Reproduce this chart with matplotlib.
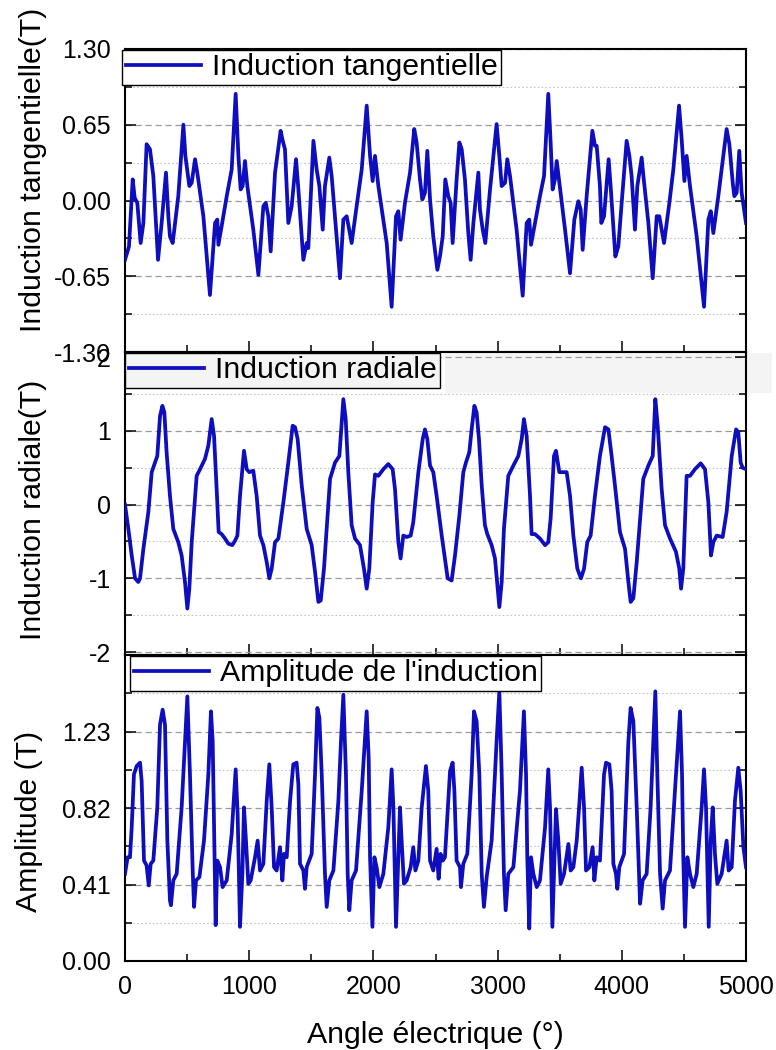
import matplotlib
matplotlib.use("Agg")
import matplotlib.pyplot as plt
from matplotlib.ticker import MultipleLocator, FixedLocator, FormatStrFormatter
from matplotlib.patches import Rectangle

plt.rcParams['font.family'] = ['Liberation Sans', 'DejaVu Sans']

# ---------------- data ----------------
tan_x = [0, 32, 62, 78, 99, 126, 148, 174, 201, 228, 266, 295, 330, 349, 362, 384, 429, 470, 486, 518,
         537, 564, 582, 631, 684, 725, 743, 752, 778, 819, 859, 891, 913, 931, 947, 966, 985, 1033, 1074,
         1114, 1133, 1154, 1173, 1208, 1253, 1270, 1288, 1315, 1342, 1377, 1396, 1436, 1463, 1476, 1517,
         1543, 1565, 1592, 1610, 1645, 1664, 1731, 1758, 1785, 1825, 1865, 1906, 1946, 1973, 1994, 2013,
         2040, 2107, 2147, 2182, 2201, 2219, 2254, 2295, 2329, 2348, 2375, 2394, 2415, 2434, 2456, 2482,
         2515, 2536, 2558, 2579, 2603, 2622, 2638, 2670, 2692, 2711, 2737, 2764, 2783, 2805, 2845, 2858,
         2880, 2901, 2939, 2992, 3014, 3033, 3060, 3078, 3100, 3153, 3202, 3234, 3255, 3269, 3301, 3341,
         3374, 3408, 3427, 3443, 3462, 3476, 3497, 3543, 3583, 3618, 3650, 3669, 3685, 3717, 3763, 3784,
         3798, 3824, 3835, 3857, 3894, 3910, 3948, 3972, 3999, 4039, 4061, 4079, 4106, 4125, 4160, 4174,
         4214, 4249, 4281, 4302, 4340, 4383, 4415, 4461, 4482, 4504, 4522, 4549, 4603, 4662, 4697, 4716,
         4737, 4777, 4844, 4866, 4893, 4906, 4925, 4946, 4965, 5000]
tan_y = [-0.509, -0.394, 0.181, 0.023, -0.020, -0.365, -0.193, 0.483, 0.44, 0.21, -0.509, -0.193, 0.239,
         -0.135, -0.308, -0.365, 0.037, 0.65, 0.383, 0.124, 0.152, 0.354, 0.239, -0.135, -0.811, -0.193,
         -0.164, -0.380, -0.221, 0.037, 0.267, 0.915, 0.383, 0.095, 0.124, 0.339, 0.124, -0.25, -0.638,
         -0.049, -0.020, -0.135, -0.437, 0.239, 0.598, 0.512, 0.44, -0.193, -0.049, 0.354, 0.095, -0.509,
         -0.365, -0.408, 0.512, 0.267, 0.124, -0.25, 0.124, 0.368, 0.21, -0.667, -0.164, -0.135, -0.365,
         -0.049, 0.267, 0.814, 0.383, 0.167, 0.383, 0.124, -0.365, -0.912, -0.135, -0.092, -0.336, -0.020,
         0.239, 0.613, 0.498, 0.181, 0.009, 0.066, 0.426, 0.009, -0.308, -0.595, -0.48, -0.308, 0.181,
         0.037, -0.020, -0.365, 0.181, 0.498, 0.44, 0.181, -0.279, -0.509, -0.193, 0.239, -0.078, -0.25,
         -0.365, 0.095, 0.656, 0.383, 0.124, 0.152, 0.354, 0.21, -0.25, -0.817, -0.193, -0.164, -0.380,
         -0.193, 0.037, 0.21, 0.915, 0.498, 0.095, 0.181, 0.339, 0.152, -0.25, -0.624, -0.164, -0.006,
         -0.078, -0.423, 0.037, 0.598, 0.469, 0.469, 0.124, -0.193, -0.135, 0.354, 0.124, -0.48, -0.394,
         -0.020, 0.512, 0.383, 0.21, -0.25, 0.124, 0.368, 0.21, -0.193, -0.667, -0.135, -0.135, -0.365,
         -0.020, 0.267, 0.814, 0.526, 0.167, 0.383, 0.124, -0.308, -0.912, -0.164, -0.092, -0.279, 0.037,
         0.613, 0.483, 0.152, 0.037, 0.066, 0.426, 0.066, -0.193]

rad_x = [0, 27, 54, 81, 107, 121, 148, 188, 215, 242, 260, 282, 301, 317, 335, 362, 389, 429, 456, 483,
         502, 518, 537, 577, 604, 644, 671, 698, 717, 738, 754, 778, 805, 832, 864, 886, 905, 926, 958,
         980, 1001, 1033, 1060, 1087, 1114, 1141, 1162, 1181, 1208, 1235, 1275, 1315, 1350, 1369, 1390,
         1423, 1463, 1503, 1530, 1557, 1576, 1602, 1651, 1691, 1726, 1758, 1777, 1798, 1825, 1852, 1892,
         1924, 1946, 1967, 1994, 2013, 2040, 2080, 2120, 2155, 2174, 2201, 2219, 2241, 2268, 2300, 2321,
         2362, 2397, 2415, 2434, 2456, 2482, 2509, 2550, 2576, 2598, 2630, 2657, 2692, 2724, 2745, 2772,
         2791, 2813, 2831, 2850, 2872, 2898, 2917, 2952, 2979, 2998, 3014, 3033, 3051, 3086, 3127, 3167,
         3194, 3212, 3234, 3261, 3274, 3301, 3341, 3382, 3408, 3427, 3454, 3470, 3497, 3524, 3556, 3583,
         3610, 3642, 3671, 3696, 3722, 3749, 3784, 3824, 3865, 3892, 3918, 3945, 3985, 4026, 4053, 4071,
         4093, 4120, 4173, 4214, 4249, 4270, 4289, 4321, 4348, 4388, 4436, 4463, 4477, 4495, 4522, 4549,
         4589, 4635, 4670, 4697, 4718, 4737, 4764, 4812, 4844, 4885, 4920, 4938, 4957, 4973, 5000]
rad_y = [0.0, -0.33, -0.69, -1.0, -1.05, -1.0, -0.6, -0.10, 0.44, 0.57, 0.66, 1.20, 1.34, 1.25, 0.71,
         0.12, -0.33, -0.51, -0.69, -1.05, -1.41, -1.14, -0.51, 0.39, 0.48, 0.62, 0.80, 1.16, 0.93, 0.21,
         -0.37, -0.40, -0.46, -0.53, -0.55, -0.49, -0.42, 0.12, 0.73, 0.48, 0.44, 0.46, 0.12, -0.42, -0.55,
         -0.78, -1.0, -0.87, -0.51, -0.46, 0.03, 0.57, 1.07, 1.05, 0.89, 0.26, -0.33, -0.55, -0.91, -1.32,
         -1.30, -0.87, 0.35, 0.57, 0.66, 1.43, 1.16, 0.44, -0.28, -0.46, -0.55, -0.87, -1.14, -0.87, 0.03,
         0.41, 0.39, 0.48, 0.55, 0.48, 0.21, -0.51, -0.73, -0.42, -0.44, -0.42, -0.24, 0.44, 0.89, 1.02,
         0.89, 0.53, 0.44, 0.12, -0.42, -0.73, -1.0, -1.03, -0.69, -0.15, 0.44, 0.57, 0.71, 1.02, 1.34,
         1.25, 0.89, 0.26, -0.28, -0.40, -0.55, -0.73, -1.09, -1.39, -1.05, -0.33, 0.39, 0.53, 0.66, 0.89,
         1.16, 0.93, 0.12, -0.40, -0.40, -0.46, -0.55, -0.51, -0.19, 0.66, 0.73, 0.44, 0.44, 0.44, 0.12,
         -0.42, -0.87, -1.0, -0.87, -0.51, -0.42, 0.12, 0.66, 1.05, 1.02, 0.66, 0.26, -0.37, -0.60, -1.05,
         -1.32, -1.27, -0.78, 0.35, 0.53, 0.66, 1.43, 1.07, 0.21, -0.28, -0.46, -0.64, -0.87, -1.14, -0.87,
         0.39, 0.39, 0.48, 0.56, 0.48, 0.03, -0.69, -0.51, -0.42, -0.44, -0.10, 0.66, 1.02, 0.98, 0.57,
         0.50, 0.48]

amp_x = [0, 21, 40, 54, 72, 94, 121, 134, 153, 174, 191, 207, 228, 260, 282, 303, 322, 341, 362, 370,
         389, 416, 456, 483, 502, 523, 545, 556, 572, 599, 636, 671, 692, 706, 719, 730, 743, 765, 786,
         819, 859, 891, 907, 926, 945, 958, 974, 993, 1012, 1047, 1068, 1087, 1114, 1141, 1162, 1181,
         1200, 1221, 1248, 1267, 1280, 1302, 1329, 1355, 1382, 1396, 1409, 1436, 1449, 1463, 1503, 1530,
         1549, 1565, 1584, 1610, 1624, 1645, 1678, 1718, 1739, 1758, 1779, 1793, 1806, 1825, 1860, 1906,
         1946, 1962, 1973, 1992, 2008, 2026, 2048, 2080, 2120, 2147, 2161, 2182, 2201, 2214, 2230, 2246,
         2268, 2300, 2321, 2338, 2362, 2389, 2423, 2442, 2456, 2482, 2509, 2525, 2541, 2558, 2576, 2617,
         2638, 2652, 2670, 2697, 2705, 2724, 2756, 2791, 2810, 2831, 2853, 2872, 2890, 2912, 2952, 2992,
         3014, 3033, 3051, 3065, 3086, 3127, 3180, 3212, 3229, 3239, 3255, 3269, 3288, 3315, 3341, 3382,
         3408, 3422, 3441, 3454, 3470, 3489, 3508, 3535, 3570, 3588, 3610, 3637, 3658, 3677, 3696, 3712,
         3739, 3765, 3779, 3798, 3824, 3857, 3873, 3900, 3918, 3932, 3953, 3964, 3980, 4018, 4053, 4071,
         4093, 4120, 4147, 4168, 4200, 4232, 4270, 4286, 4308, 4329, 4348, 4388, 4428, 4469, 4485, 4495,
         4509, 4528, 4549, 4576, 4603, 4643, 4662, 4678, 4700, 4716, 4732, 4750, 4769, 4804, 4844, 4860,
         4885, 4911, 4938, 4957, 4979, 5000]
amp_y = [0.467, 0.556, 0.556, 0.716, 1.0, 1.045, 1.063, 0.965, 0.538, 0.512, 0.405, 0.521, 0.538, 0.823,
         1.267, 1.347, 1.267, 0.645, 0.325, 0.299, 0.432, 0.467, 0.823, 1.178, 1.418, 1.0, 0.485, 0.290,
         0.432, 0.450, 0.645, 1.0, 1.338, 1.178, 0.645, 0.192, 0.538, 0.503, 0.396, 0.432, 0.681, 1.027,
         0.787, 0.183, 0.467, 0.823, 0.645, 0.414, 0.432, 0.556, 0.645, 0.485, 0.521, 0.858, 1.054, 0.823,
         0.503, 0.485, 0.610, 0.432, 0.574, 0.556, 0.858, 1.054, 1.063, 0.947, 0.521, 0.485, 0.387, 0.503,
         0.574, 1.0, 1.356, 1.303, 1.0, 0.467, 0.290, 0.432, 0.485, 0.858, 1.178, 1.427, 1.0, 0.467, 0.272,
         0.432, 0.485, 0.912, 1.338, 1.089, 0.556, 0.183, 0.556, 0.503, 0.396, 0.467, 0.716, 1.027, 0.823,
         0.183, 0.556, 0.823, 0.610, 0.414, 0.432, 0.503, 0.610, 0.485, 0.538, 0.823, 1.045, 0.912, 0.538,
         0.485, 0.601, 0.441, 0.574, 0.538, 0.556, 1.018, 1.063, 0.912, 0.538, 0.503, 0.396, 0.521, 0.574,
         1.0, 1.338, 1.285, 1.0, 0.467, 0.290, 0.450, 0.645, 1.178, 1.445, 1.0, 0.467, 0.272, 0.467, 0.503,
         0.912, 1.338, 1.0, 0.556, 0.174, 0.556, 0.467, 0.396, 0.432, 0.716, 1.027, 0.823, 0.183, 0.467,
         0.814, 0.645, 0.414, 0.467, 0.627, 0.485, 0.503, 0.645, 0.841, 1.036, 0.823, 0.485, 0.503, 0.610,
         0.432, 0.556, 0.538, 1.0, 1.063, 1.054, 0.912, 0.521, 0.467, 0.387, 0.503, 0.574, 1.178, 1.356,
         1.285, 0.823, 0.307, 0.432, 0.467, 0.823, 1.445, 1.0, 0.467, 0.281, 0.432, 0.485, 0.912, 1.338,
         1.0, 0.556, 0.183, 0.556, 0.467, 0.396, 0.467, 0.823, 1.027, 0.823, 0.183, 0.645, 0.823, 0.574,
         0.414, 0.467, 0.645, 0.485, 0.503, 0.858, 1.036, 0.912, 0.610, 0.503]

labels = ["Induction tangentielle", "Induction radiale", "Amplitude de l'induction"]
ylabels = ["Induction tangentielle(T)", "Induction radiale(T)", "Amplitude (T)"]
tan_ticks = [-1.30, -0.65, 0.00, 0.65, 1.30]
rad_ticks = [-2, -1, 0, 1, 2]
amp_ticks = [0.00, 0.41, 0.82, 1.23]
x_ticks = [0, 1000, 2000, 3000, 4000, 5000]

# ---------------- layout ----------------
W, H = 776, 1050
fig = plt.figure(figsize=(W / 100, H / 100), dpi=100)
L, R = 125, 746
panels_px = [(49, 352), (352, 655), (655, 961)]
line_color = '#0e0ebe'
FS_LAB = 21.8
FS_TICK = 18

axes = []
for top, bot in panels_px:
    ax = fig.add_axes([L / W, 1 - bot / H, (R - L) / W, (bot - top) / H])
    axes.append(ax)

ax1, ax2, ax3 = axes
ax1.plot(tan_x, tan_y, color=line_color, lw=2.7, label=labels[0], zorder=3,
         solid_joinstyle='round')
ax2.plot(rad_x, rad_y, color=line_color, lw=2.7, label=labels[1], zorder=3,
         solid_joinstyle='round')
ax3.plot(amp_x, amp_y, color=line_color, lw=2.7, label=labels[2], zorder=3,
         solid_joinstyle='round')

ax1.set_ylim(-1.30, 1.30)
ax1.yaxis.set_major_locator(FixedLocator(tan_ticks))
ax1.yaxis.set_minor_locator(MultipleLocator(0.325))
ax1.yaxis.set_major_formatter(FormatStrFormatter('%.2f'))

ax2.set_ylim(-2.04, 2.07)
ax2.yaxis.set_major_locator(FixedLocator(rad_ticks))
ax2.yaxis.set_minor_locator(MultipleLocator(0.5))
ax2.yaxis.set_major_formatter(FormatStrFormatter('%d'))

ax3.set_ylim(0, 1.64)
ax3.yaxis.set_major_locator(FixedLocator(amp_ticks))
ax3.yaxis.set_minor_locator(MultipleLocator(0.205))
ax3.yaxis.set_major_formatter(FormatStrFormatter('%.2f'))

for i, ax in enumerate(axes):
    ax.set_xlim(0, 5000)
    ax.xaxis.set_major_locator(FixedLocator(x_ticks))
    ax.xaxis.set_minor_locator(MultipleLocator(500))
    ax.tick_params(which='both', direction='in', top=False, right=True, width=1.1,
                   labelsize=FS_TICK, pad=10, colors='black')
    ax.tick_params(which='major', length=8)
    ax.tick_params(which='minor', length=5)
    if i < 2:
        ax.tick_params(axis='x', labelbottom=False)
    for s in ax.spines.values():
        s.set_linewidth(1.5)
    ax.grid(which='major', axis='y', linestyle=(0, (5, 3)), color='#9a9a9a', lw=0.9)
    ax.grid(which='minor', axis='y', linestyle=(0, (1.5, 2)), color='#c4c4c4', lw=0.8)
    ax.set_axisbelow(True)

ax3.set_xlabel("Angle électrique (°)", fontsize=FS_LAB, labelpad=16)

label_pos = [(-0.148, 0.60), (-0.148, 0.479), (-0.155, 0.457)]
for ax, lab, (lx, ly) in zip(axes, ylabels, label_pos):
    ax.set_ylabel(lab, fontsize=FS_LAB, va='center')
    ax.yaxis.set_label_coords(lx, ly)

# light gray band (scan artefact) at top of the middle panel
band = Rectangle((445 / W, 1 - 393 / H), (772 - 445) / W, 40 / H, transform=fig.transFigure,
                 facecolor='#f4f4f4', edgecolor='none', zorder=0.2, clip_on=False)
ax2.add_patch(band)

leg_anchor = [(-0.005, 0.998), (0.0, 0.998), (0.008, 0.998)]
leg_faces = ['white', '#f4f4f4', 'white']
for ax, anc, fc in zip(axes, leg_anchor, leg_faces):
    leg = ax.legend(loc='upper left', bbox_to_anchor=anc, fontsize=FS_LAB, frameon=True,
                    fancybox=False, framealpha=1, facecolor=fc, edgecolor='black',
                    borderpad=0.12, handlelength=2.5, handletextpad=0.35, borderaxespad=0)
    leg.get_frame().set_linewidth(1.0)
    leg.set_zorder(5)

fig.savefig("out.png", dpi=100)
